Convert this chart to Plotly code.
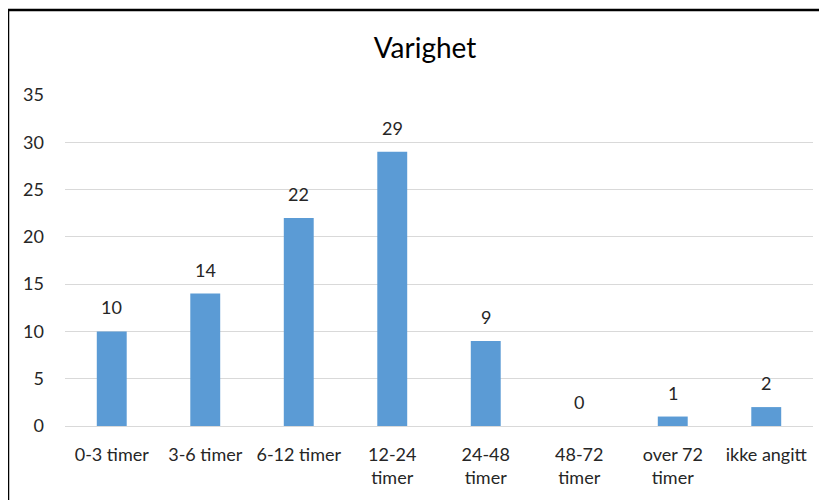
import plotly.graph_objects as go

categories = ["0-3 timer", "3-6 timer", "6-12 timer", "12-24<br>timer", "24-48<br>timer",
              "48-72<br>timer", "over 72<br>timer", "ikke angitt"]
values = [10, 14, 22, 29, 9, 0, 1, 2]
y_ticks = [0, 5, 10, 15, 20, 25, 30, 35]

FONT = "Lato"
TXT = "#262626"

# page body has an 8px margin: shift figure coordinates by -8px
OFF = 8
W, H = 827, 500
ml = 65 - OFF
mt = 95 - OFF
pw = 748
ph = 331
mr = W - ml - pw
mb = H - mt - ph

fig = go.Figure()
fig.add_trace(go.Bar(
    x=categories, y=values,
    marker=dict(color="#5B9BD5", line=dict(width=0)),
    width=0.32,
    hoverinfo="skip",
))

for c, v in zip(categories, values):
    fig.add_annotation(x=c, y=v, text=str(v), showarrow=False,
                       yanchor="middle", yshift=24,
                       font=dict(family=FONT, size=18, color=TXT))


def px2x(px):
    return (px - OFF - ml) / pw


def py2y(py):
    return (mt + ph - (py - OFF)) / ph


fig.add_shape(type="rect", xref="paper", yref="paper",
              x0=px2x(8), x1=px2x(850), y0=py2y(530), y1=py2y(10),
              line=dict(color="black", width=2.5), fillcolor="rgba(0,0,0,0)",
              layer="above")

fig.update_layout(
    width=W, height=H,
    margin=dict(l=ml, r=mr, t=mt, b=mb),
    paper_bgcolor="white", plot_bgcolor="white",
    font=dict(family=FONT, color=TXT, size=18),
    title=dict(text="Varighet", x=(425 - OFF) / W, xanchor="center",
               y=1 - (48 - OFF) / H, yanchor="middle",
               font=dict(family=FONT, size=28, color="#000000")),
    showlegend=False,
    xaxis=dict(showgrid=False, showline=False, ticks="", tickangle=0,
               ticklabelstandoff=16,
               tickfont=dict(family=FONT, size=18, color=TXT)),
    yaxis=dict(range=[0, 35], tickvals=y_ticks, showgrid=True, gridcolor="#D9D9D9",
               gridwidth=1, zeroline=True, zerolinecolor="#D9D9D9", zerolinewidth=1,
               showline=False, ticks="", ticklabelstandoff=20,
               tickfont=dict(family=FONT, size=18, color=TXT)),
)

fig.write_html("out.html")
